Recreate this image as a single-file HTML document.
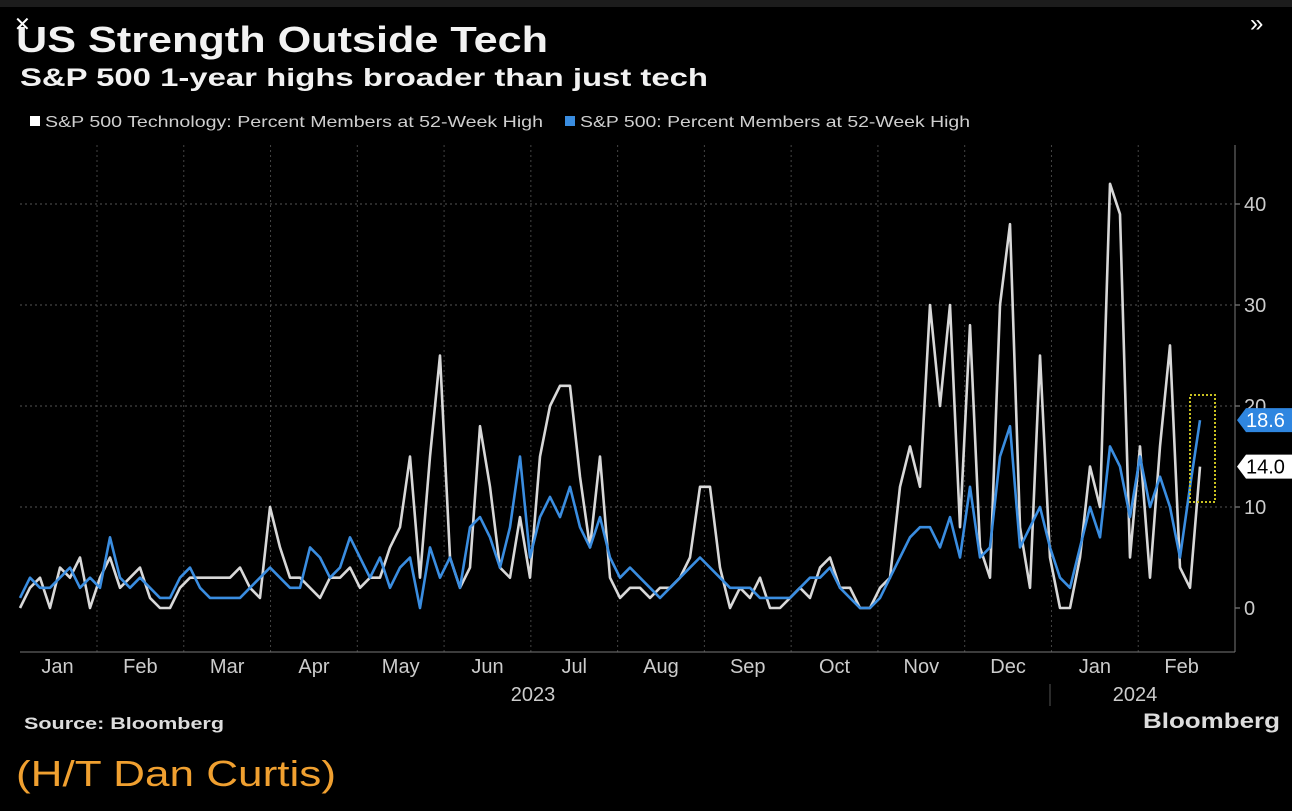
<!DOCTYPE html>
<html><head><meta charset="utf-8">
<style>
body{margin:0;background:#000;width:1292px;height:811px;overflow:hidden;font-family:"Liberation Sans",sans-serif}
svg{position:absolute;left:0;top:0}
</style></head>
<body>
<svg width="1292" height="811">
<rect x="0" y="0" width="1292" height="811" fill="#000"/>
<rect x="0" y="0" width="1292" height="7" fill="#1c1c1c"/>
<text x="16" y="52" fill="#f2f2f2" font-size="36" font-weight="bold" textLength="532" lengthAdjust="spacingAndGlyphs">US Strength Outside Tech</text>
<text x="20" y="86" fill="#f2f2f2" font-size="25" font-weight="bold" textLength="688" lengthAdjust="spacingAndGlyphs">S&amp;P 500 1-year highs broader than just tech</text>
<text x="14" y="31" fill="#fff" font-size="20">✕</text>
<text x="1250" y="31" fill="#fff" font-size="24">»</text>
<g>
<rect x="30" y="116" width="10" height="10" fill="#fff"/>
<text x="45" y="127" fill="#cfcfcf" font-size="16" textLength="498" lengthAdjust="spacingAndGlyphs">S&amp;P 500 Technology: Percent Members at 52-Week High</text>
<rect x="565" y="116" width="10" height="10" fill="#3a8de0"/>
<text x="580" y="127" fill="#cfcfcf" font-size="16" textLength="390" lengthAdjust="spacingAndGlyphs">S&amp;P 500: Percent Members at 52-Week High</text>
</g>
<g id="grid"></g>
<g id="axes"></g>
<g id="series"></g>
<text x="24" y="729" fill="#ddd" font-size="17" font-weight="bold" textLength="200" lengthAdjust="spacingAndGlyphs">Source: Bloomberg</text>
<text x="1143" y="728" fill="#ddd" font-size="21" font-weight="bold" textLength="137" lengthAdjust="spacingAndGlyphs">Bloomberg</text>
<text x="16" y="786" fill="#f0a030" font-size="36" textLength="320" lengthAdjust="spacingAndGlyphs">(H/T Dan Curtis)</text>
</svg>
<script>
const yTicks=[0,10,20,30,40];
const months=["Jan","Feb","Mar","Apr","May","Jun","Jul","Aug","Sep","Oct","Nov","Dec","Jan","Feb"];
const years=["2023","2024"];
const tech=[0,2,3,0,4,3,5,0,3,5,2,3,4,1,0,0,2,3,3,3,3,3,4,2,1,10,6,3,3,2,1,3,3,4,2,3,3,6,8,15,3,15,25,5,2,4,18,12,4,3,9,3,15,20,22,22,13,6,15,3,1,2,2,1,2,2,3,5,12,12,4,0,2,1,3,0,0,1,2,1,4,5,2,2,0,0,2,3,12,16,12,30,20,30,8,28,6,3,30,38,8,2,25,5,0,0,5,14,10,42,39,5,16,3,16,26,4,2,14];
const sp500=[1,3,2,2,3,4,2,3,2,7,3,2,3,2,1,1,3,4,2,1,1,1,1,2,3,4,3,2,2,6,5,3,4,7,5,3,5,2,4,5,0,6,3,5,2,8,9,7,4,8,15,5,9,11,9,12,8,6,9,5,3,4,3,2,1,2,3,4,5,4,3,2,2,2,1,1,1,1,2,3,3,4,2,1,0,0,1,3,5,7,8,8,6,9,5,12,5,6,15,18,6,8,10,6,3,2,6,10,7,16,14,9,15,10,13,10,5,12,18.6];
const ns="http://www.w3.org/2000/svg";
const X0=20,X1=1200,Y0=608,PX=10.1;
const x=i=>X0+i*(X1-X0)/(tech.length-1);
const y=v=>Y0-v*PX;
function mk(t,a,p){const e=document.createElementNS(ns,t);for(const k in a)e.setAttribute(k,a[k]);p.appendChild(e);return e;}
const grid=document.getElementById('grid'),axes=document.getElementById('axes'),ser=document.getElementById('series');
yTicks.forEach(v=>{
 if(v>0){const g=mk('line',{x1:20,x2:1235,y1:y(v),y2:y(v),stroke:'#555','stroke-dasharray':'2,3'},grid);
 
 }
 const t=mk('text',{x:1244,y:y(v)+7,fill:'#ccc','font-size':20},axes);t.textContent=v;
 
 
 const tk=mk('line',{x1:1235,x2:1240,y1:y(v),y2:y(v),stroke:'#999'},axes);
 
 
});
const mw=(1225-97)/13;
const bnd=i=>i==0?18:97+mw*(i-1);
months.forEach((m,i)=>{
 const cx=(bnd(i)+bnd(i+1))/2;
 const t=mk('text',{x:cx,y:673,fill:'#ccc','font-size':20,'text-anchor':'middle'},axes);t.textContent=m;
 
 
 if(i>0){const g=mk('line',{x1:bnd(i),x2:bnd(i),y1:145,y2:652,stroke:'#444','stroke-dasharray':'2,3'},grid);
 
 }
});
years.forEach((yr,i)=>{
 const t=mk('text',{x:i==0?533:1135,y:701,fill:'#ccc','font-size':20,'text-anchor':'middle'},axes);t.textContent=yr;
 
 
});
let l=mk('line',{x1:1050,x2:1050,y1:684,y2:706,stroke:'#555'},axes);


l=mk('line',{x1:20,x2:1235,y1:652,y2:652,stroke:'#777'},axes);


l=mk('line',{x1:1235,x2:1235,y1:145,y2:652,stroke:'#777'},axes);


function line(arr,col,name){
 const p=mk('polyline',{points:arr.map((v,i)=>x(i)+','+y(v)).join(' '),fill:'none',stroke:col,'stroke-width':2.6,'stroke-linejoin':'round'},ser);
 
 
}
line(tech,'#d8d8d8','tech-line');
line(sp500,'#3a8de0','sp500-line');
const r=mk('rect',{x:1190,y:395,width:25,height:107,fill:'none',stroke:'#c8c020','stroke-width':2,'stroke-dasharray':'2,2'},ser);


function tag(v,bg,fg,name){
 const yy=y(v);
 const g=mk('g',{},ser);
 
 
 mk('path',{d:`M1237 ${yy} L1246 ${yy-12} L1292 ${yy-12} L1292 ${yy+12} L1246 ${yy+12} Z`,fill:bg},g);
 const t=mk('text',{x:1246,y:yy+7,fill:fg,'font-size':20},g);t.textContent=v.toFixed(1);
}
tag(sp500[sp500.length-1],'#2f86e0','#fff','value-tag-sp500');
tag(tech[tech.length-1],'#fff','#000','value-tag-tech');
</script>
</body></html>
